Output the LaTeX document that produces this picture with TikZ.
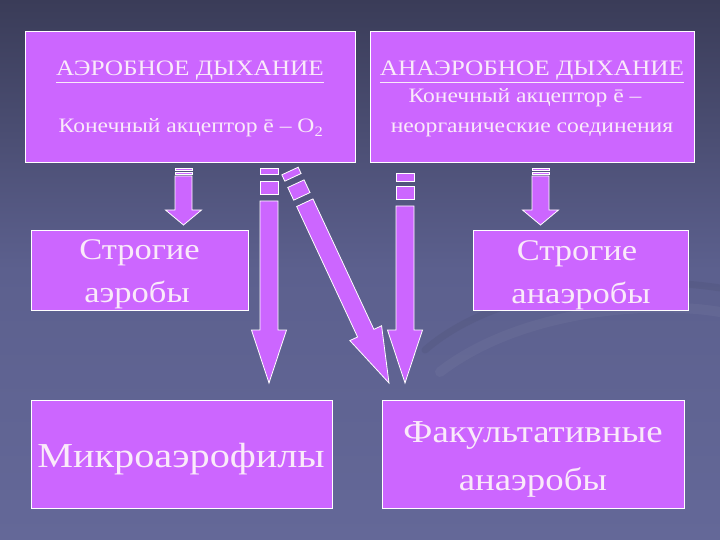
\documentclass[tikz,border=0pt]{standalone}
\usepackage{fontspec}
\setmainfont{Liberation Serif}
\newfontfamily\wideserif[FakeStretch=1.15]{Liberation Serif}
\usetikzlibrary{calc, positioning}

\definecolor{slatetop}{RGB}{58,60,88}
\definecolor{slatemid}{RGB}{92,96,142}
\definecolor{slatebot}{RGB}{100,104,152}
\definecolor{lilac}{RGB}{204,102,255}
\definecolor{paletext}{RGB}{250,234,250}

% striped piece of a block arrow: from, to, start, end, half width
\newcommand{\stripe}[5]{%
  \coordinate (st-a) at ($(#1)!#3!(#2)$);
  \coordinate (st-b) at ($(#1)!#4!(#2)$);
  \draw[arrowbody] ($(st-a)!#5!90:(#2)$) -- ($(st-b)!#5!90:(#2)$)
    -- ($(st-b)!#5!-90:(#2)$) -- ($(st-a)!#5!-90:(#2)$) -- cycle;
}
% block arrow: from, to, shaft start, head length, half shaft, half head
\newcommand{\blockarrow}[6]{%
  \coordinate (ba-s) at ($(#1)!#3!(#2)$);
  \coordinate (ba-h) at ($(#2)!#4!(#1)$);
  \draw[arrowbody] ($(ba-s)!#5!90:(#2)$) -- ($(ba-h)!#5!90:(#2)$)
    -- ($(ba-h)!#6!90:(#2)$) -- (#2) -- ($(ba-h)!#6!-90:(#2)$)
    -- ($(ba-h)!#5!-90:(#2)$) -- ($(ba-s)!#5!-90:(#2)$) -- cycle;
}

\begin{document}
\begin{tikzpicture}[x=1pt, y=-1pt,
  box/.style={draw=white, line width=0.8pt, fill=lilac, inner sep=0pt},
  arrowbody/.style={draw=white, line width=0.8pt, fill=lilac, line join=miter},
  txt/.style={text=paletext, inner sep=0pt, anchor=base}]

  \useasboundingbox (0,0) rectangle (720,540);

  % Sfondo
  \shade[top color=slatetop, bottom color=slatebot, middle color=slatemid]
    (0,0) rectangle (720,540);
  \draw[slatetop, opacity=0.13, line width=7pt, line cap=round]
    (425,350) .. controls (500,285) and (640,275) .. (720,288);
  \draw[white, opacity=0.04, line width=10pt, line cap=round]
    (440,372) .. controls (520,310) and (650,300) .. (720,312);

  % Riquadri
  \node[box, minimum width=330pt, minimum height=131pt] (aero) at (190,96.5) {};
  \node[box, minimum width=324pt, minimum height=131pt] (anaero) at (532,96.5) {};
  \node[box, minimum width=217pt, minimum height=80pt] (straero) at (139.5,270) {};
  \node[box, minimum width=215pt, minimum height=80pt] (stranaero) at (580.5,270) {};
  \node[box, minimum width=301pt, minimum height=108pt] (micro) at (181.5,454) {};
  \node[box, minimum width=302pt, minimum height=108pt] (facult) at (533,454) {};

  % Testi
  \node[txt, font=\wideserif\fontsize{22}{26}\selectfont] (aerot) at (190,76)
    {\underline{АЭРОБНОЕ ДЫХАНИЕ}};
  \node[txt, font=\wideserif\fontsize{20.5}{24}\selectfont] (aeroa) at (191,133)
    {Конечный акцептор ē – O\textsubscript{2}};
  \node[txt, font=\wideserif\fontsize{22}{26}\selectfont] (anaerot) at (532,76)
    {\underline{АНАЭРОБНОЕ ДЫХАНИЕ}};
  \node[txt, font=\wideserif\fontsize{20.5}{24}\selectfont] (anaeroa) at (525,103)
    {Конечный акцептор ē –};
  \node[txt, font=\wideserif\fontsize{20.5}{24}\selectfont] (anaerob) at (532,133)
    {неорганические соединения};
  \node[txt, font=\wideserif\fontsize{30}{36}\selectfont] (straerot) at (139.5,259) {Строгие};
  \node[txt, font=\wideserif\fontsize{30}{36}\selectfont] (straerob) at (137,302) {аэробы};
  \node[txt, font=\wideserif\fontsize{30}{36}\selectfont] (stranaerot) at (577,260) {Строгие};
  \node[txt, font=\wideserif\fontsize{30}{36}\selectfont] (stranaerob) at (581,303) {анаэробы};
  \node[txt, font=\wideserif\fontsize{35}{42}\selectfont] (microt) at (181,467) {Микроаэрофилы};
  \node[txt, font=\wideserif\fontsize{32}{38}\selectfont] (facultt) at (533,442) {Факультативные};
  \node[txt, font=\wideserif\fontsize{32}{38}\selectfont] (facultb) at (533,490) {анаэробы};

  % Estremi delle frecce
  \coordinate (a1s) at (183.5,168);  \coordinate (a1e) at (183.5,225);
  \coordinate (a2s) at (269,168);    \coordinate (a2e) at (269,383);
  \coordinate (a3s) at (290,171);    \coordinate (a3e) at (389,383);
  \coordinate (a4s) at (405,173);    \coordinate (a4e) at (405,383);
  \coordinate (a5s) at (540.5,168);  \coordinate (a5e) at (540.5,225);

  % Frecce
  \stripe{a1s}{a1e}{0pt}{2.5pt}{8.5pt}
  \stripe{a1s}{a1e}{4pt}{6.5pt}{8.5pt}
  \blockarrow{a1s}{a1e}{8pt}{15pt}{8.5pt}{18pt}

  \stripe{a2s}{a2e}{0pt}{6pt}{9pt}
  \stripe{a2s}{a2e}{13pt}{26pt}{9pt}
  \blockarrow{a2s}{a2e}{33pt}{53pt}{9pt}{17.5pt}

  \stripe{a3s}{a3e}{0pt}{7pt}{9pt}
  \stripe{a3s}{a3e}{14pt}{28pt}{9pt}
  \blockarrow{a3s}{a3e}{35pt}{55pt}{9pt}{17.5pt}

  \stripe{a4s}{a4e}{0pt}{8pt}{9pt}
  \stripe{a4s}{a4e}{13pt}{26pt}{9pt}
  \blockarrow{a4s}{a4e}{33pt}{53pt}{9pt}{17.5pt}

  \stripe{a5s}{a5e}{0pt}{2.5pt}{8.5pt}
  \stripe{a5s}{a5e}{4pt}{6.5pt}{8.5pt}
  \blockarrow{a5s}{a5e}{8pt}{15pt}{8.5pt}{18pt}

\end{tikzpicture}
\end{document}
